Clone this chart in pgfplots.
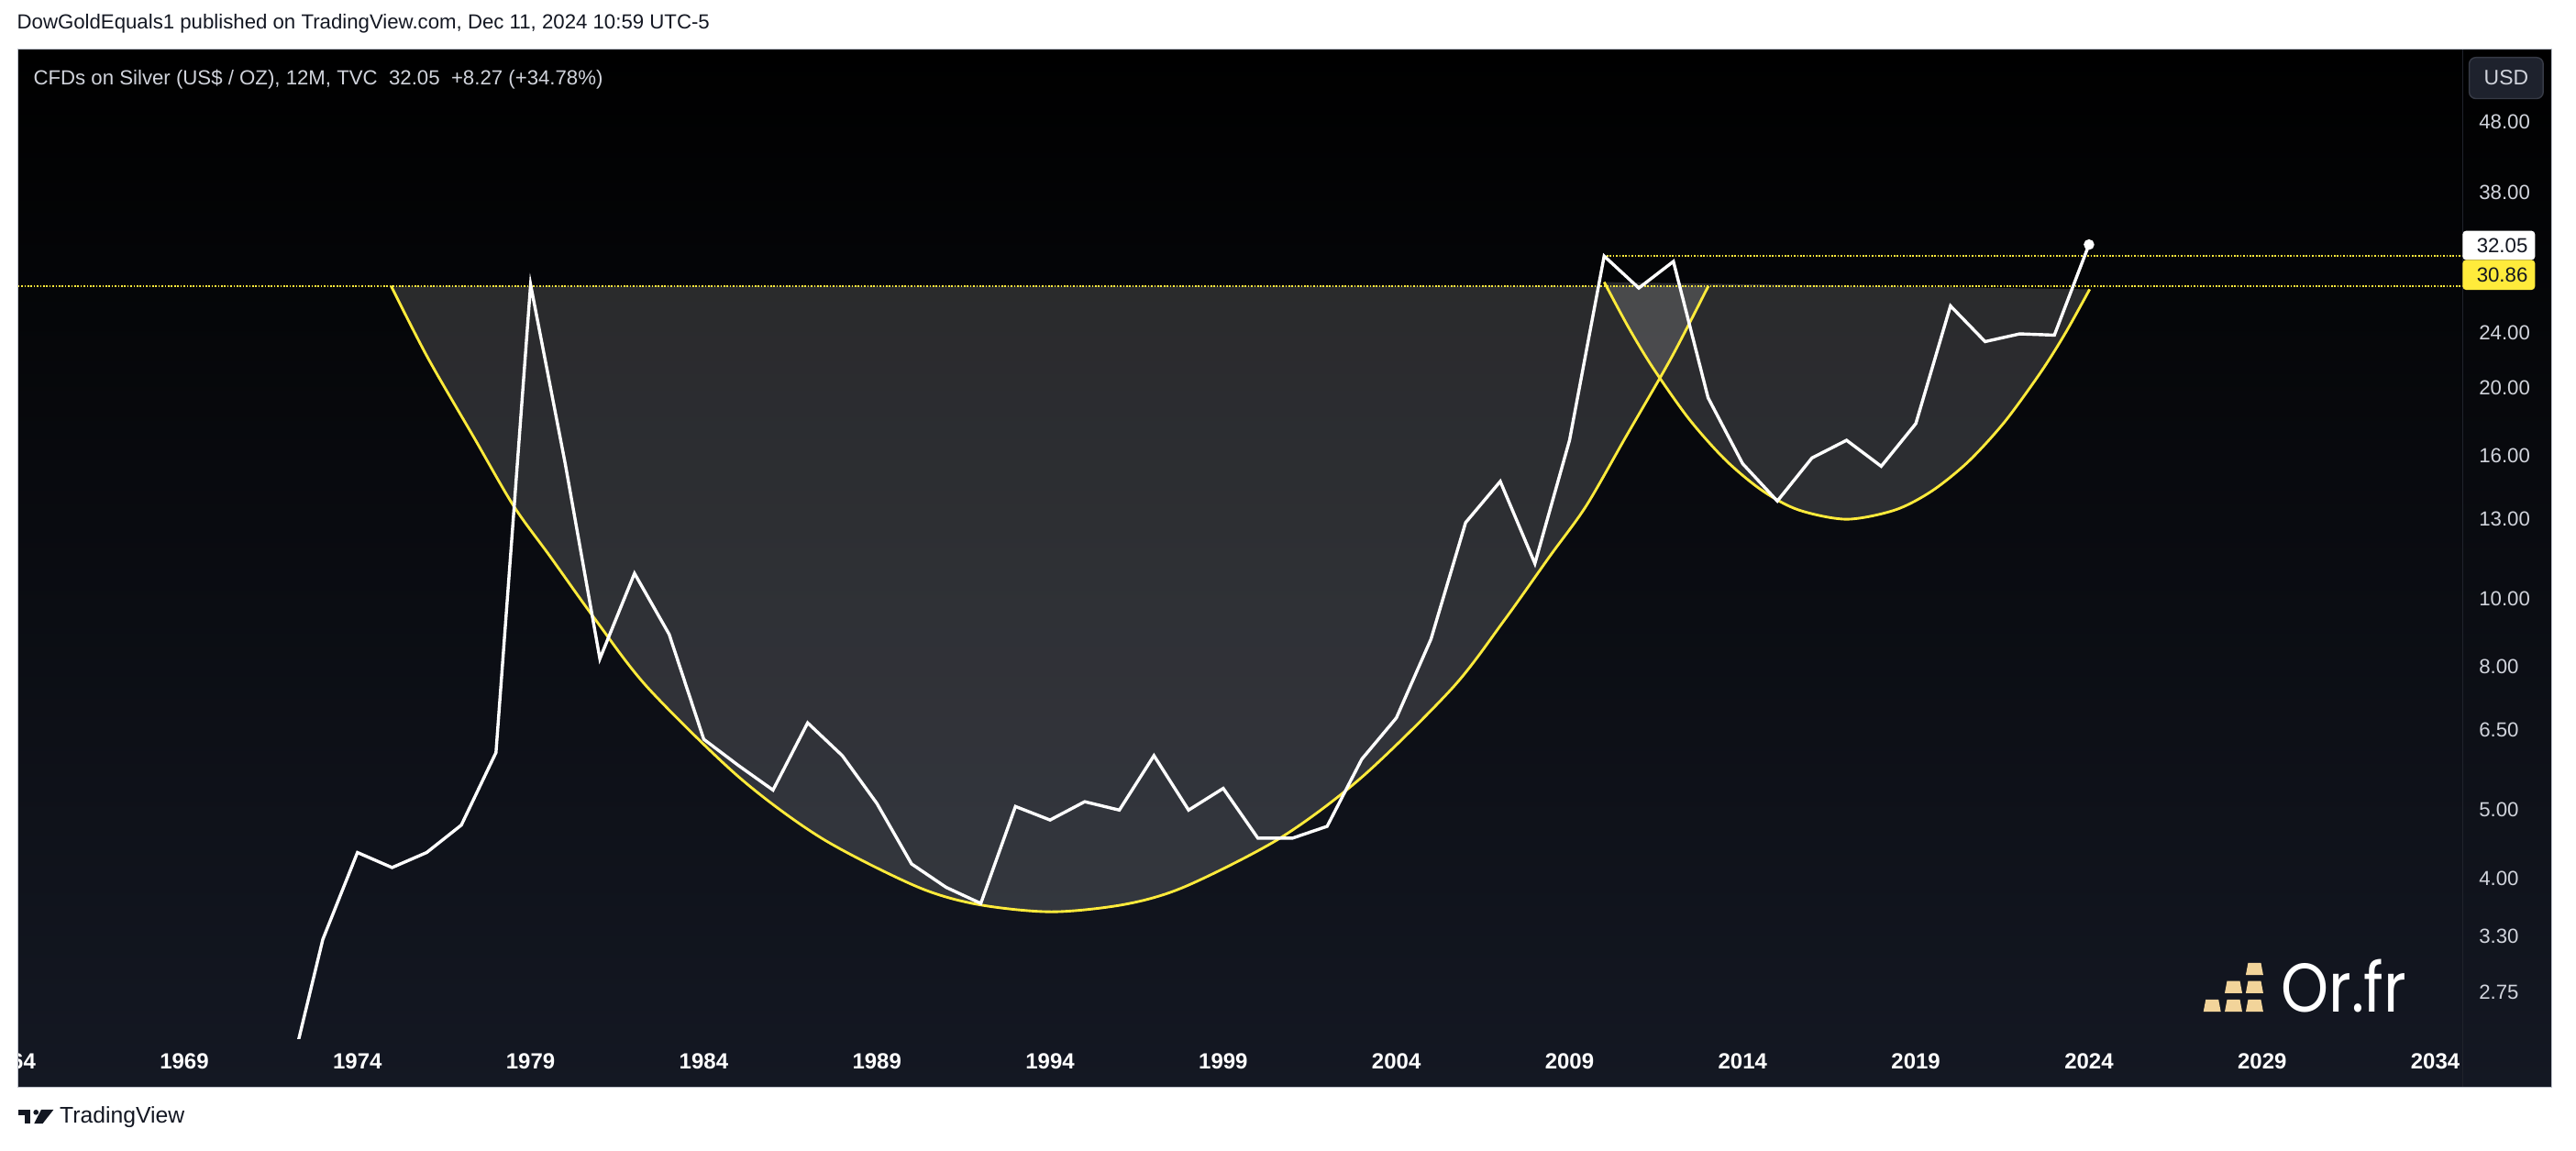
\documentclass[border=0pt]{standalone}
\usepackage{fontspec}
\setmainfont{Liberation Sans}
\newfontfamily\orfont{Poppins}
\usepackage{pgfplots}
\usepackage{pgfplotstable}
\pgfplotsset{compat=1.18}

\definecolor{tvbg}{RGB}{20,24,35}
\definecolor{tvtext}{RGB}{209,212,220}
\definecolor{tvyellow}{RGB}{255,235,59}
\definecolor{tvdark}{RGB}{19,23,34}
\definecolor{tvsep}{RGB}{32,35,44}
\definecolor{tvbtn}{RGB}{30,34,45}
\definecolor{tvbtnline}{RGB}{54,58,69}
\definecolor{tvborder}{RGB}{190,194,204}
\definecolor{goldbar}{RGB}{242,212,154}

% yearly closes, silver
\pgfplotstableread{
year close
1972 2.04
1973 3.27
1974 4.35
1975 4.14
1976 4.35
1977 4.76
1978 6.04
1979 28.1
1980 15.6
1981 8.22
1982 10.88
1983 8.91
1984 6.31
1985 5.79
1986 5.34
1987 6.66
1988 5.98
1989 5.11
1990 4.19
1991 3.88
1992 3.68
1993 5.06
1994 4.84
1995 5.14
1996 5.00
1997 5.98
1998 5.00
1999 5.37
2000 4.56
2001 4.56
2002 4.74
2003 5.91
2004 6.77
2005 8.77
2006 12.86
2007 14.72
2008 11.24
2009 16.85
2010 30.86
2011 27.78
2012 30.32
2013 19.38
2014 15.60
2015 13.80
2016 15.90
2017 16.85
2018 15.47
2019 17.80
2020 26.20
2021 23.30
2022 23.90
2023 23.80
2024 32.05
}\silverdata

% big cup drawing
\pgfplotstableread{
year price
1974.97 27.98
1976.03 22.10
1977.36 17.02
1978.51 13.58
1979.56 11.51
1980.89 9.32
1982.39 7.47
1985.02 5.57
1987.40 4.56
1990.15 3.89
1991.90 3.669
1994.04 3.580
1996.16 3.669
1997.90 3.89
2000.64 4.56
2003.00 5.57
2005.62 7.47
2007.11 9.32
2008.43 11.51
2009.48 13.58
2010.62 17.02
2011.94 22.10
2013.01 27.98
}\cupbig

% small cup (handle)
\pgfplotstableread{
year price
2010.00 28.33
2010.70 24.43
2011.40 21.41
2012.45 18.07
2013.50 15.80
2014.55 14.30
2015.60 13.41
2017.00 13.00
2018.40 13.40
2019.46 14.26
2020.51 15.70
2021.56 17.89
2022.61 21.08
2023.32 23.97
2024.02 27.67
}\cupsmall

\begin{document}
\begin{tikzpicture}
\useasboundingbox (0pt,0pt) rectangle (784pt,-350.25pt);
\begin{scope}[x=0.5pt,y=-0.5pt]
  \fill[white] (0,0) rectangle (1568,700.5);
  \shade[top color=black, bottom color=tvbg] (11,30) rectangle (1553,662);
  \draw[tvsep, line width=0.4pt] (1499,30) -- (1499,662);
\end{scope}

\begin{axis}[
    at={(5.5pt,-316pt)}, anchor=south west,
    scale only axis, width=744pt, height=301pt,
    xmin=1964.2, xmax=2034.79,
    ymode=log, ymin=2.362, ymax=60.87,
    axis line style={draw=none},
    tick style={draw=none},
    major tick length=0pt, minor tick length=0pt,
    minor y tick num=0,
    xtick={1969,1974,...,2034},
    xticklabels={1969,1974,1979,1984,1989,1994,1999,2004,2009,2014,2019,2024,2029,2034},
    xticklabel style={font=\fontsize{6.7}{7}\selectfont\bfseries, text=white,
        anchor=center, inner sep=0pt, yshift=-7pt},
    ytick={2.75,3.3,4,5,6.5,8,10,13,16,20,24,38,48},
    yticklabels={2.75,3.30,4.00,5.00,6.50,8.00,10.00,13.00,16.00,20.00,24.00,38.00,48.00},
    yticklabel pos=right,
    yticklabel style={font=\fontsize{6.2}{7}\selectfont, text=tvtext,
        anchor=west, inner sep=0pt, xshift=4.8pt},
]
  % shaded cups
  \addplot[draw=none, fill=white, fill opacity=0.15, smooth] table {\cupbig} -- cycle;
  \addplot[draw=none, fill=white, fill opacity=0.15, smooth] table {\cupsmall} -- cycle;

  % dotted levels
  \addplot[tvyellow, line width=0.5pt, dash pattern=on 0.45pt off 0.5pt]
    coordinates {(1964.2,27.98) (2034.79,27.98)};
  \addplot[tvyellow, line width=0.5pt, dash pattern=on 0.45pt off 0.5pt]
    coordinates {(2010.07,30.86) (2034.79,30.86)};

  % cup curves
  \addplot[tvyellow, line width=0.8pt, smooth] table {\cupbig};
  \addplot[tvyellow, line width=0.8pt, smooth] table {\cupsmall};

  % price line
  \addplot[white, line width=0.95pt] table {\silverdata};
  \addplot[white, only marks, mark=*, mark size=1.4pt] coordinates {(2024,32.05)};
\end{axis}

\begin{scope}[x=0.5pt,y=-0.5pt]
  % cut year label at left edge
  \node[font=\fontsize{6.7}{7}\selectfont\bfseries, text=white, inner sep=0pt] at (6.8,646) {1964};
  \fill[white] (0,625) rectangle (10.9,665);
  \draw[tvborder, line width=0.3pt] (11,30) rectangle (1553,662);

  % header
  \node[anchor=base west, inner sep=0pt, text=tvdark, font=\fontsize{6.2}{7}\selectfont]
    at (10,17.5) {DowGoldEquals1 published on TradingView.com, Dec 11, 2024 10:59 UTC-5};
  % title inside chart
  \node[anchor=base west, inner sep=0pt, text=tvtext, font=\fontsize{6.2}{7}\selectfont]
    at (20,51.5) {CFDs on Silver (US\$ / OZ), 12M, TVC\ \ 32.05\ \ +8.27 (+34.78\%)};

  % USD button
  \draw[tvbtnline, fill=tvbtn, line width=0.4pt, rounded corners=2pt] (1503,35) rectangle (1548,60);
  \node[text=tvtext, font=\fontsize{6.4}{7}\selectfont, inner sep=0pt] at (1525.5,47.5) {USD};

  % last price and level labels
  \fill[white, rounded corners=1pt] (1499,140.5) rectangle (1543,158.2);
  \fill[tvyellow, rounded corners=1pt] (1499,158.2) rectangle (1543,176.4);
  \node[anchor=east, inner sep=0pt, text=tvdark, font=\fontsize{6.2}{7}\selectfont] at (1539,149.4) {32.05};
  \node[anchor=east, inner sep=0pt, text=tvdark, font=\fontsize{6.2}{7}\selectfont] at (1539,167.3) {30.86};

  % Or.fr logo
  \foreach \xa/\ya in {1341.2/608.4, 1354.2/608.4, 1367/608.4, 1354.2/597, 1367/597, 1367/586}{
    \fill[goldbar] (\xa,\ya+7.4) -- (\xa+10.6,\ya+7.4) -- (\xa+9.2,\ya) -- (\xa+1.4,\ya) -- cycle;
  }
  \node[anchor=base west, inner sep=0pt, text=white] at (1388,616)
    {\scalebox{0.88}[1]{\orfont\fontsize{21}{22}\selectfont Or.fr}};

  % TradingView footer
  \fill[tvdark] (11.2,675.4) rectangle (18.6,678.8);
  \fill[tvdark] (15.3,675.4) rectangle (18.6,683.8);
  \fill[tvdark] (21.9,677.0) circle (1.6);
  \fill[tvdark] (25.1,675.4) -- (32.6,675.4) -- (26.0,683.8) -- (20.8,683.8) -- cycle;
  \node[anchor=base west, inner sep=0pt, text=tvdark, font=\fontsize{6.9}{8}\selectfont]
    at (36,683.4) {TradingView};
\end{scope}
\end{tikzpicture}
\end{document}
